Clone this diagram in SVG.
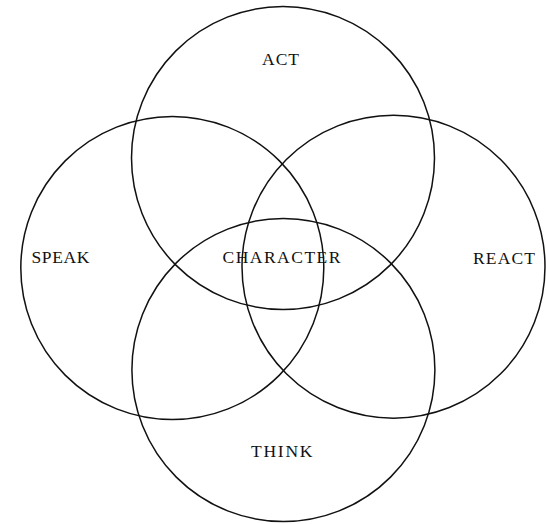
<svg xmlns="http://www.w3.org/2000/svg" width="546" height="524" viewBox="0 0 546 524">
  <style>
    .ring { fill: none; stroke: #111; stroke-width: 1.5; }
    .lbl { font-family: "Liberation Serif", "DejaVu Serif", serif; font-size: 17.5px; fill: #111; }
  </style>
  <rect x="0" y="0" width="546" height="524" fill="#fff"/>
  <g id="act">
    <circle class="ring" cx="283" cy="158" r="151.5"/>
    <text class="lbl" x="262" y="65" textLength="37" lengthAdjust="spacing">ACT</text>
  </g>
  <g id="speak">
    <circle class="ring" cx="172.3" cy="268" r="151.5"/>
    <text class="lbl" x="31.5" y="262.5" textLength="58" lengthAdjust="spacing">SPEAK</text>
  </g>
  <g id="react">
    <circle class="ring" cx="393.5" cy="266.7" r="151.5"/>
    <text class="lbl" x="473" y="263.5" textLength="62" lengthAdjust="spacing">REACT</text>
  </g>
  <g id="think">
    <circle class="ring" cx="283.4" cy="370" r="151.5"/>
    <text class="lbl" x="251" y="457" textLength="61.5" lengthAdjust="spacing">THINK</text>
  </g>
  <g id="character">
    <text class="lbl" x="222.5" y="263" textLength="118" lengthAdjust="spacing">CHARACTER</text>
  </g>
  <g id="connectors"></g>
</svg>
